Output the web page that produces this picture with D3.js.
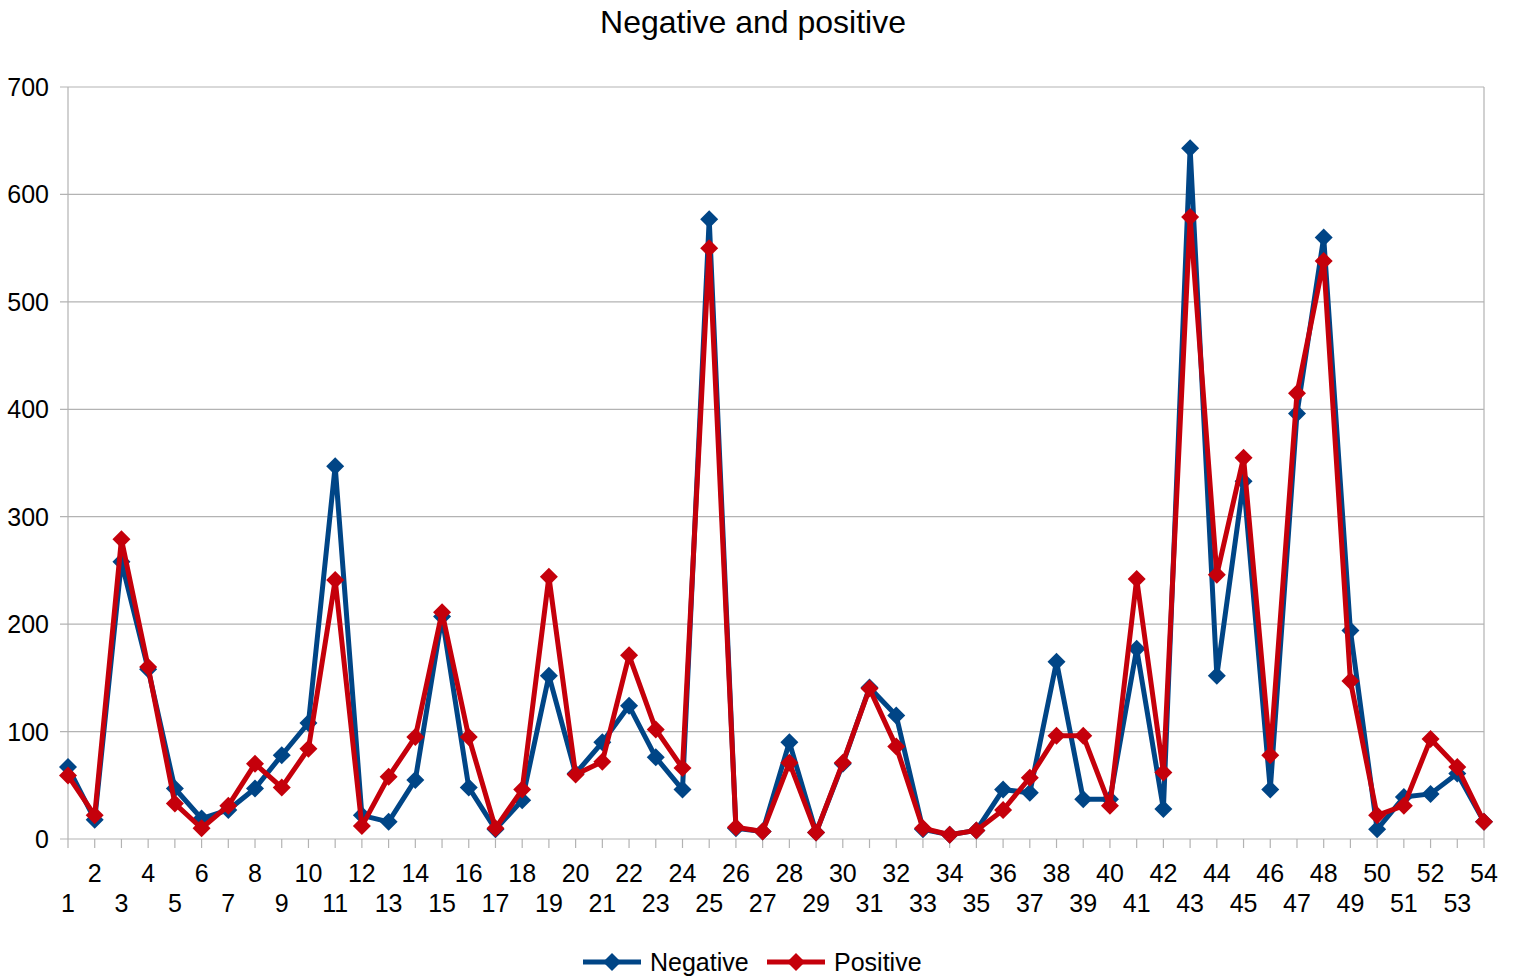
<!DOCTYPE html>
<html>
<head>
<meta charset="utf-8">
<script src="https://cdn.jsdelivr.net/npm/d3@7"></script>
<style>
  body { margin: 0; background: #fff; }
  svg { font-family: "Liberation Sans", Arial, sans-serif; }
</style>
</head>
<body>
<div id="chart"></div>
<script>
var categories = d3.range(1, 55);
var negative = [67, 18, 258, 158, 47, 19, 27, 47, 78, 108, 347, 22, 16, 55, 207, 48, 9, 36, 152, 61,
                90, 124, 76, 46, 577, 10, 7, 90, 6, 70, 141, 115, 9, 4, 8, 46, 43, 165, 37, 37,
                177, 28, 643, 152, 333, 46, 396, 560, 194, 9, 39, 42, 61, 16];
var positive = [59, 22, 279, 160, 33, 10, 31, 70, 48, 84, 241, 12, 58, 95, 211, 95, 10, 46, 244, 60,
                72, 171, 102, 66, 550, 11, 7, 71, 6, 71, 140, 86, 10, 4, 8, 27, 57, 96, 96, 31,
                242, 62, 579, 246, 355, 78, 415, 538, 147, 22, 31, 93, 67, 16];
var yTicks = [0, 100, 200, 300, 400, 500, 600, 700];
var seriesNames = ["Negative", "Positive"];
var colors = ["#004586", "#c5000b"];

var W = 1515, H = 977;
var plotLeft = 68, plotRight = 1484, plotTop = 87, plotBottom = 839;

var svg = d3.select("#chart").append("svg")
    .attr("width", W)
    .attr("height", H);

var x = d3.scalePoint().domain(categories).range([plotLeft, plotRight]);
var y = d3.scaleLinear().domain([0, 700]).range([plotBottom, plotTop]);

// title
svg.append("text")
    .attr("x", 753).attr("y", 33)
    .attr("text-anchor", "middle")
    .style("font-size", "32px")
    .text("Negative and positive");

// gridlines
svg.selectAll(".grid")
    .data(yTicks)
    .enter().append("line")
    .attr("x1", plotLeft - 8).attr("x2", plotRight)
    .attr("y1", d => y(d)).attr("y2", d => y(d))
    .attr("stroke", "#b3b3b3").attr("stroke-width", 1.2);

// y axis line + right border
svg.append("line").attr("x1", plotLeft).attr("x2", plotLeft).attr("y1", plotTop).attr("y2", plotBottom)
    .attr("stroke", "#b3b3b3").attr("stroke-width", 1.2);
svg.append("line").attr("x1", plotRight).attr("x2", plotRight).attr("y1", plotTop).attr("y2", plotBottom)
    .attr("stroke", "#b3b3b3").attr("stroke-width", 1.2);

// y labels
svg.selectAll(".ylab")
    .data(yTicks)
    .enter().append("text")
    .attr("x", 49).attr("y", d => y(d) + 9)
    .attr("text-anchor", "end")
    .style("font-size", "25px")
    .text(d => d);

// x ticks
svg.selectAll(".xtick")
    .data(categories)
    .enter().append("line")
    .attr("x1", d => x(d)).attr("x2", d => x(d))
    .attr("y1", plotBottom).attr("y2", plotBottom + 9)
    .attr("stroke", "#b3b3b3").attr("stroke-width", 1.2);

// x labels, staggered
svg.selectAll(".xlab")
    .data(categories)
    .enter().append("text")
    .attr("x", d => x(d))
    .attr("y", d => d % 2 === 0 ? 882 : 912)
    .attr("text-anchor", "middle")
    .style("font-size", "25px")
    .text(d => d);

var diamond = function (cx, cy, r) {
    return "M" + cx + "," + (cy - r) + "L" + (cx + r) + "," + cy + "L" + cx + "," + (cy + r) + "L" + (cx - r) + "," + cy + "Z";
};

var allSeries = [negative, positive];
var line = d3.line().x((d, i) => x(categories[i])).y(d => y(d));

allSeries.forEach(function (vals, si) {
    svg.append("path")
        .datum(vals)
        .attr("d", line)
        .attr("fill", "none")
        .attr("stroke", colors[si])
        .attr("stroke-width", 5)
        .attr("stroke-linejoin", "round");

    svg.selectAll(".m" + si)
        .data(vals)
        .enter().append("path")
        .attr("d", (d, i) => diamond(x(categories[i]), y(d), 9))
        .attr("fill", colors[si]);
});

// legend
var legendX = [583, 767];
seriesNames.forEach(function (name, si) {
    var lx = legendX[si];
    svg.append("line")
        .attr("x1", lx).attr("x2", lx + 58)
        .attr("y1", 962).attr("y2", 962)
        .attr("stroke", colors[si]).attr("stroke-width", 5);
    svg.append("path")
        .attr("d", diamond(lx + 29, 962, 9))
        .attr("fill", colors[si]);
    svg.append("text")
        .attr("x", lx + 67).attr("y", 971)
        .style("font-size", "25px")
        .text(name);
});
</script>
</body>
</html>
